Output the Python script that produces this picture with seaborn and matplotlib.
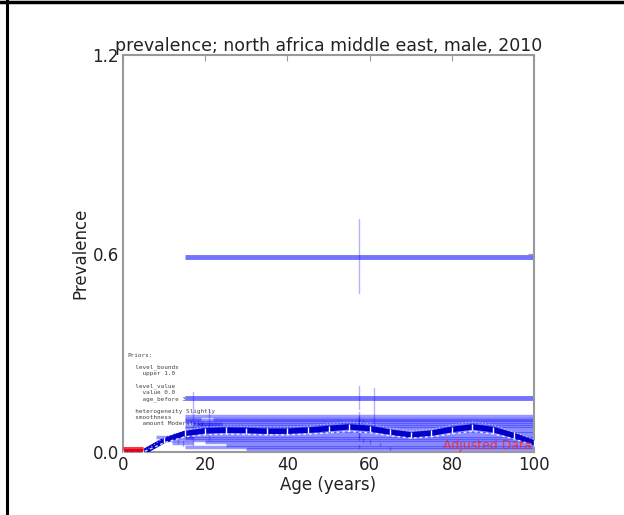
import matplotlib
matplotlib.use("Agg")
import matplotlib.pyplot as plt
from matplotlib.lines import Line2D
import numpy as np
import pandas as pd
import seaborn as sns

# Observed prevalence rows: age interval, value and 95% interval
age_start = [15, 15, 22, 15, 15, 15, 17, 15, 15, 20, 15, 15, 15, 17, 8, 10, 12, 15, 18, 20, 25, 15, 30]
age_end = [100, 100, 100, 100, 100, 100, 100, 100, 100, 100, 100, 100, 100, 100, 17, 17, 17, 19, 24, 100, 100, 100, 100]
value = [0.590, 0.163, 0.100, 0.108, 0.098, 0.092, 0.086, 0.080, 0.072, 0.064, 0.056, 0.048, 0.041, 0.036,
         0.046, 0.036, 0.026, 0.100, 0.085, 0.030, 0.022, 0.015, 0.010]
lower = [0.480, 0.130, 0.060, 0.095, 0.088, 0.082, 0.077, 0.071, 0.064, 0.056, 0.049, 0.041, 0.035, 0.030,
         0.036, 0.028, 0.019, 0.020, 0.036, 0.024, 0.017, 0.011, 0.007]
upper = [0.705, 0.200, 0.195, 0.122, 0.110, 0.103, 0.096, 0.089, 0.081, 0.073, 0.064, 0.056, 0.048, 0.043,
         0.057, 0.045, 0.034, 0.180, 0.127, 0.037, 0.028, 0.020, 0.014]

# Adjusted data for the youngest ages
adj_start = [0]
adj_end = [5]
adj_value = [0.007]

# Model posterior mean and uncertainty by age
model_age = [0, 5, 10, 15, 20, 25, 30, 35, 40, 45, 50, 55, 60, 65, 70, 75, 80, 85, 90, 95, 100]
model_mean = [0.0, 0.0, 0.035, 0.056, 0.064, 0.066, 0.065, 0.063, 0.063, 0.066, 0.071, 0.076, 0.071, 0.060,
              0.052, 0.057, 0.068, 0.076, 0.068, 0.050, 0.028]
model_lower = [0.0, 0.0, 0.028, 0.046, 0.052, 0.054, 0.053, 0.052, 0.052, 0.054, 0.058, 0.062, 0.058, 0.049,
               0.042, 0.046, 0.055, 0.062, 0.055, 0.040, 0.020]
model_upper = [0.0, 0.0, 0.043, 0.066, 0.076, 0.079, 0.078, 0.076, 0.076, 0.079, 0.085, 0.091, 0.085, 0.073,
               0.064, 0.069, 0.082, 0.091, 0.082, 0.061, 0.037]

x_ticks = [0, 20, 40, 60, 80, 100]
y_ticks = [0.0, 0.6, 1.2]

priors_text = ("Priors:\n\n"
               "  level_bounds\n    upper 1.0\n\n"
               "  level_value\n    value 0.0\n    age_before 3\n\n"
               "  heterogeneity Slightly\n"
               "  smoothness\n    amount Moderately")

sns.set_style("white")
plt.rcParams["font.family"] = ["DejaVu Sans"]

fig = plt.figure(figsize=(6.24, 5.15), dpi=100)
ax = fig.add_axes([0.197, 0.1223, 0.659, 0.7709])

data = pd.DataFrame({"start": age_start, "end": age_end, "value": value,
                     "lower": lower, "upper": upper})
data["mid"] = (data["start"] + data["end"]) / 2

# data rows: horizontal segments across the age interval plus a vertical interval
for i, r in data.iterrows():
    wide = i < 2
    ax.plot([r["start"], r["end"]], [r["value"], r["value"]], color="#0000ff",
            alpha=0.55 if wide else 0.4, lw=3.5 if wide else 2.5,
            solid_capstyle="butt", zorder=2)
    ax.plot([r["mid"], r["mid"]], [r["lower"], r["upper"]], color="#0000ff",
            alpha=0.3, lw=1, zorder=2)

model = pd.DataFrame({"age": model_age, "mean": model_mean,
                      "lower": model_lower, "upper": model_upper})
sns.lineplot(data=model, x="age", y="mean", ax=ax, color="#0000cc", lw=4,
             marker="|", markersize=5, mew=1, zorder=4)
sns.lineplot(data=model, x="age", y="lower", ax=ax, color="white", lw=1.0,
             linestyle=(0, (2, 2)), alpha=0.85, zorder=5)
sns.lineplot(data=model, x="age", y="upper", ax=ax, color="white", lw=0.8,
             linestyle=(0, (1, 2)), alpha=0.6, zorder=5)

for s, e, v in zip(adj_start, adj_end, adj_value):
    ax.plot([s, e], [v, v], color="#ff0000", alpha=0.8, lw=5, solid_capstyle="butt", zorder=6)

ax.text(1.2, 0.30, priors_text, family="DejaVu Sans Mono", fontsize=4.3,
        va="top", ha="left", color="#444444", linespacing=1.25, zorder=1)
ax.text(99.5, 0.0, "Adjusted Data", color="#ff2222", alpha=0.85, fontsize=9,
        ha="right", va="bottom", zorder=6)

ax.set_xlim(0, 100)
ax.set_ylim(0, 1.2)
ax.set_xticks(x_ticks)
ax.set_yticks(y_ticks)
ax.set_yticklabels(["0.0", "0.6", "1.2"])
ax.tick_params(direction="in", length=4, color="#999999", labelsize=12,
               labelcolor="#222222", top=True, right=True, pad=3)
ax.set_xlabel("Age (years)", fontsize=12, color="#222222", labelpad=1)
ax.set_ylabel("Prevalence", fontsize=12, color="#222222", labelpad=2)
ax.set_title("prevalence; north africa middle east, male, 2010", fontsize=12.5,
             color="#222222", pad=3)
for sp in ax.spines.values():
    sp.set_color("#999999")
    sp.set_linewidth(1.5)

# frame strokes along the top and left edge of the canvas
fig.add_artist(Line2D([0, 1], [0.997, 0.997], transform=fig.transFigure, color="black", lw=2.5))
fig.add_artist(Line2D([0.0115, 0.0115], [0, 1], transform=fig.transFigure, color="black", lw=2.2))

fig.savefig("out.png", dpi=100)
